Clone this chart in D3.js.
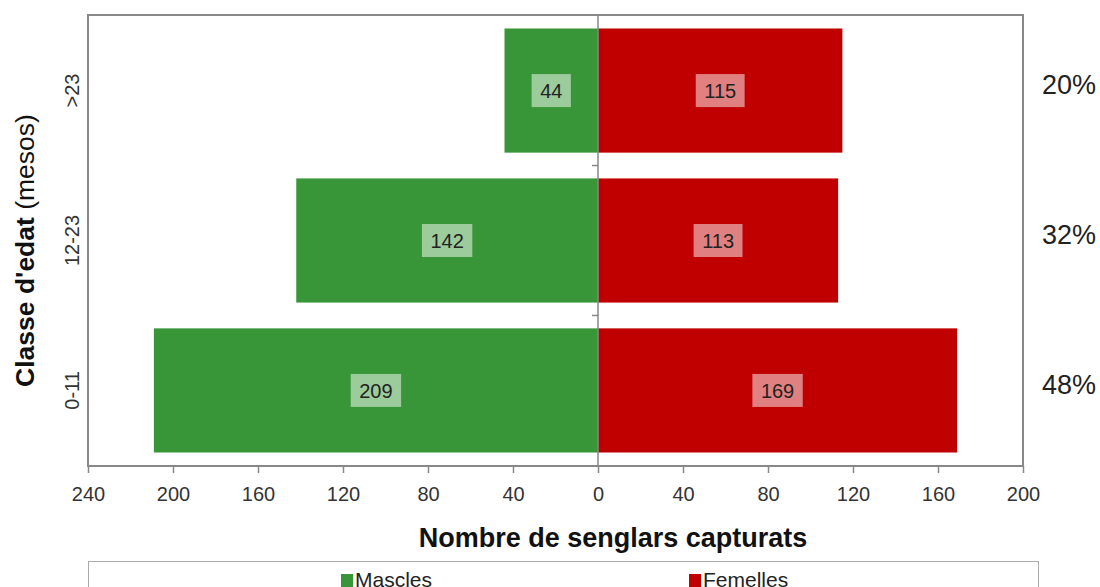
<!DOCTYPE html>
<html>
<head>
<meta charset="utf-8">
<script src="https://cdn.jsdelivr.net/npm/d3@7"></script>
<style>
  body { margin: 0; background: #fff; }
  svg { font-family: "Liberation Sans", Arial, sans-serif; }
</style>
</head>
<body>
<div id="graph"></div>
<script>
// data
const classes = ['>23', '12-23', '0-11'];
const mascles = [44, 142, 209];
const femelles = [115, 113, 169];
const series_names = ['Mascles', 'Femelles'];
const x_ticks = [-240, -200, -160, -120, -80, -40, 0, 40, 80, 120, 160, 200];

const w = 1100;
const h = 587;
const plot_left = 88, plot_right = 1023, plot_top = 15, plot_bottom = 466;
const green = '#389638';
const red = '#c00000';

const total = d3.sum(mascles) + d3.sum(femelles);

const svg = d3.select('#graph').append('svg')
  .attr('width', w)
  .attr('height', h);

const xScale = d3.scaleLinear()
  .domain([-240, 200])
  .range([plot_left, plot_right]);

const yScale = d3.scaleBand()
  .domain(classes)
  .range([plot_top, plot_bottom])
  .paddingInner(0.172)
  .paddingOuter(0.09);

const rows = classes.map((c, i) => ({cls: c, m: mascles[i], f: femelles[i]}));

// bars
const bars = svg.append('g');
bars.selectAll('.male')
  .data(rows)
  .enter()
  .append('rect')
  .attr('x', d => xScale(-d.m))
  .attr('y', d => yScale(d.cls))
  .attr('width', d => xScale(0) - xScale(-d.m))
  .attr('height', yScale.bandwidth())
  .attr('fill', green);

bars.selectAll('.female')
  .data(rows)
  .enter()
  .append('rect')
  .attr('x', xScale(0))
  .attr('y', d => yScale(d.cls))
  .attr('width', d => xScale(d.f) - xScale(0))
  .attr('height', yScale.bandwidth())
  .attr('fill', red);

// frame
svg.append('rect')
  .attr('x', plot_left)
  .attr('y', plot_top)
  .attr('width', plot_right - plot_left)
  .attr('height', plot_bottom - plot_top)
  .attr('fill', 'none')
  .attr('stroke', '#888')
  .attr('stroke-width', 2);

// zero line + small category ticks
svg.append('line')
  .attr('x1', xScale(0)).attr('x2', xScale(0))
  .attr('y1', plot_top).attr('y2', plot_bottom)
  .attr('stroke', '#888')
  .attr('stroke-width', 1.5);

const gap = (yScale.step() - yScale.bandwidth()) / 2;
svg.selectAll('.cattick')
  .data(classes.slice(0, -1))
  .enter()
  .append('line')
  .attr('x1', xScale(0) - 6).attr('x2', xScale(0))
  .attr('y1', d => yScale(d) + yScale.bandwidth() + gap)
  .attr('y2', d => yScale(d) + yScale.bandwidth() + gap)
  .attr('stroke', '#888')
  .attr('stroke-width', 1.5);

// value labels with light boxes
function addLabels(val, sign) {
  const g = svg.append('g');
  const lab = g.selectAll('g')
    .data(rows)
    .enter()
    .append('g')
    .attr('transform', d => 'translate(' + ((xScale(0) + xScale(sign * d[val])) / 2) + ',' + (yScale(d.cls) + yScale.bandwidth() / 2) + ')');
  lab.append('rect');
  lab.append('text')
    .attr('text-anchor', 'middle')
    .attr('dy', '0.36em')
    .attr('font-size', 20)
    .attr('fill', '#222')
    .text(d => d[val]);
  lab.each(function() {
    const t = d3.select(this).select('text').node().getComputedTextLength();
    d3.select(this).select('rect')
      .attr('x', -t / 2 - 8.5)
      .attr('y', -16.5)
      .attr('width', t + 17)
      .attr('height', 33)
      .attr('fill', '#fff')
      .attr('fill-opacity', 0.5);
  });
}
addLabels('m', -1);
addLabels('f', 1);

// x axis
const xAxis = d3.axisBottom(xScale)
  .tickValues(x_ticks)
  .tickFormat(d => Math.abs(d))
  .tickSize(7)
  .tickPadding(14);
const gx = svg.append('g')
  .attr('transform', 'translate(0,' + plot_bottom + ')')
  .call(xAxis);
gx.select('.domain').remove();
gx.selectAll('line').attr('stroke', '#888').attr('stroke-width', 1.5);
gx.selectAll('text')
  .attr('font-size', 20)
  .attr('fill', '#333')
  .attr('font-family', '"Liberation Sans", Arial, sans-serif');

// y tick labels (rotated)
svg.selectAll('.ylab')
  .data(classes)
  .enter()
  .append('text')
  .attr('transform', d => 'translate(79,' + (yScale(d) + yScale.bandwidth() / 2) + ') rotate(-90)')
  .attr('text-anchor', 'middle')
  .attr('font-size', 20)
  .attr('fill', '#333')
  .text(d => d);

// percentages on the right
svg.selectAll('.pct')
  .data(rows)
  .enter()
  .append('text')
  .attr('x', 1069)
  .attr('y', d => yScale(d.cls) + yScale.bandwidth() / 2 - 6)
  .attr('dy', '0.36em')
  .attr('text-anchor', 'middle')
  .attr('font-size', 27)
  .attr('fill', '#222')
  .text(d => Math.round((d.m + d.f) / total * 100) + '%');

// axis titles
svg.append('text')
  .attr('x', 613)
  .attr('y', 547)
  .attr('text-anchor', 'middle')
  .attr('font-size', 27)
  .attr('font-weight', 'bold')
  .attr('fill', '#111')
  .text('Nombre de senglars capturats');

const yt = svg.append('text')
  .attr('transform', 'translate(34,' + ((plot_top + plot_bottom) / 2 + 10) + ') rotate(-90)')
  .attr('text-anchor', 'middle')
  .attr('font-size', 26.5)
  .attr('fill', '#111');
yt.append('tspan').attr('font-weight', 'bold').text("Classe d'edat ");
yt.append('tspan').text('(mesos)');

// legend
const leg = svg.append('g');
leg.append('rect')
  .attr('x', 88.5)
  .attr('y', 561.5)
  .attr('width', 950)
  .attr('height', 60)
  .attr('fill', 'none')
  .attr('stroke', '#aaa')
  .attr('stroke-width', 1);
const items = leg.selectAll('g')
  .data(series_names)
  .enter()
  .append('g')
  .attr('transform', (d, i) => 'translate(' + (341 + i * 348) + ',574)');
items.append('rect')
  .attr('width', 12)
  .attr('height', 13)
  .attr('fill', (d, i) => i === 0 ? green : red);
items.append('text')
  .attr('x', 14)
  .attr('y', 13)
  .attr('font-size', 21)
  .attr('fill', '#222')
  .text(d => d);
</script>
</body>
</html>
